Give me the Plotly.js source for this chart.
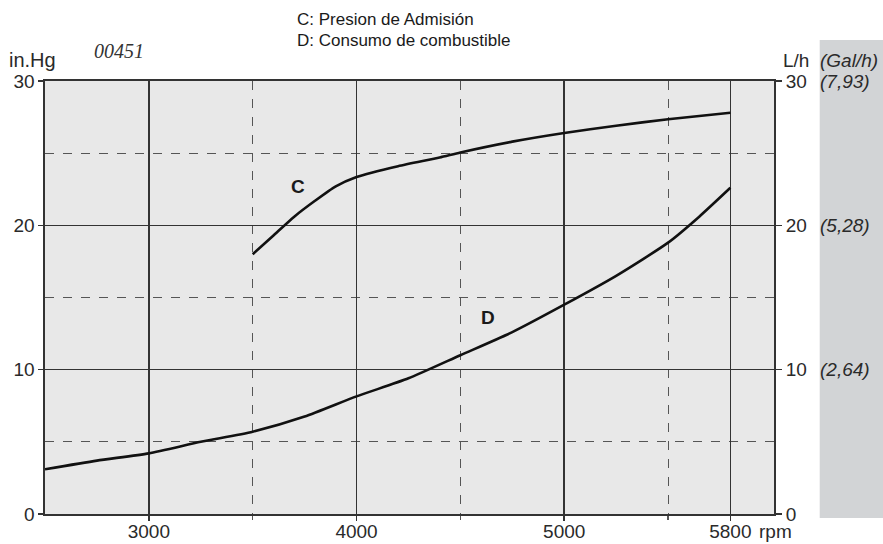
<!DOCTYPE html>
<html>
<head>
<meta charset="utf-8">
<script src="https://cdn.plot.ly/plotly-3.0.1.min.js"></script>
<style>html,body{margin:0;padding:0;background:#fff;}#chart{width:883px;height:544px;}</style>
</head>
<body>
<div id="chart"></div>
<script>
// Data
var rpmC = [3500, 3600, 3700, 3800, 3900, 4000, 4200, 4400, 4500, 4750, 5000, 5250, 5500, 5800];
var presionC = [18.0, 19.3, 20.6, 21.7, 22.7, 23.35, 24.1, 24.7, 25.05, 25.8, 26.4, 26.9, 27.35, 27.8];
var rpmD = [2500, 2750, 3000, 3250, 3500, 3750, 4000, 4250, 4500, 4750, 5000, 5250, 5500, 5650, 5800];
var consumoD = [3.1, 3.7, 4.2, 5.0, 5.7, 6.75, 8.15, 9.4, 11.0, 12.6, 14.5, 16.5, 18.8, 20.6, 22.6];
var xMajor = [3000, 4000, 5000, 5800];
var xMajorText = ['3000', '4000', '5000', '5800'];
var xMinor = [3500, 4500, 5500];
var yMajor = [0, 10, 20, 30];
var yMinor = [5, 15, 25];
var galText = ['', '(2,64)', '(5,28)', '(7,93)'];

var txt = '#2a2a2a';
var fontMain = 'Liberation Sans, Arial, sans-serif';
var fs = 19;

var traces = [
  {x: rpmC, y: presionC, type: 'scatter', mode: 'lines', line: {color: '#111', width: 2.6, shape: 'spline', smoothing: 0.6}, hoverinfo: 'skip'},
  {x: rpmD, y: consumoD, type: 'scatter', mode: 'lines', yaxis: 'y2', line: {color: '#111', width: 2.6, shape: 'spline', smoothing: 0.6}, hoverinfo: 'skip'}
];

var annotations = [
  {text: 'C: Presion de Admisión', xref: 'paper', yref: 'paper', x: 0.343, y: 1.141, xanchor: 'left', yanchor: 'middle', showarrow: false, font: {family: fontMain, size: 17, color: '#1a1a1a'}},
  {text: 'D: Consumo de combustible', xref: 'paper', yref: 'paper', x: 0.343, y: 1.094, xanchor: 'left', yanchor: 'middle', showarrow: false, font: {family: fontMain, size: 17, color: '#1a1a1a'}},
  {text: 'in.Hg', xref: 'paper', yref: 'paper', x: -0.052, y: 1.048, xanchor: 'left', yanchor: 'middle', showarrow: false, font: {family: fontMain, size: 20, color: txt}},
  {text: '<i>00451</i>', xref: 'paper', yref: 'paper', x: 0.064, y: 1.07, xanchor: 'left', yanchor: 'middle', showarrow: false, font: {family: 'Liberation Serif, Times New Roman, serif', size: 20, color: '#333'}},
  {text: 'L/h', xref: 'paper', yref: 'paper', x: 1.010, y: 1.048, xanchor: 'left', yanchor: 'middle', showarrow: false, font: {family: fontMain, size: fs, color: txt}},
  {text: '<i>(Gal/h)</i>', xref: 'paper', yref: 'paper', x: 1.060, y: 1.048, xanchor: 'left', yanchor: 'middle', showarrow: false, font: {family: fontMain, size: fs, color: txt}},
  {text: 'rpm', xref: 'paper', yref: 'paper', x: 0.976, y: -0.04, xanchor: 'left', yanchor: 'middle', showarrow: false, font: {family: fontMain, size: fs, color: txt}},
  {text: '<b>C</b>', x: 3716, y: 22.7, xref: 'x', yref: 'y', showarrow: false, font: {family: fontMain, size: 19, color: '#1a1a1a'}},
  {text: '<b>D</b>', x: 4632, y: 13.6, xref: 'x', yref: 'y', showarrow: false, font: {family: fontMain, size: 19, color: '#1a1a1a'}}
];
for (var i = 0; i < yMajor.length; i++) {
  if (galText[i]) {
    annotations.push({text: '<i>' + galText[i] + '</i>', xref: 'paper', yref: 'y2', x: 1.060, y: yMajor[i], xanchor: 'left', yanchor: 'middle', showarrow: false, font: {family: fontMain, size: fs, color: txt}});
  }
}

var layout = {
  width: 883, height: 544,
  margin: {l: 44.7, r: 108.7, t: 81, b: 30},
  paper_bgcolor: '#ffffff',
  plot_bgcolor: '#e8e8e8',
  showlegend: false,
  xaxis: {
    range: [2500, 6010], tickmode: 'array', tickvals: xMajor, ticktext: xMajorText,
    showgrid: true, gridcolor: '#333', gridwidth: 1.6,
    showline: true, linecolor: '#333', linewidth: 1.6, mirror: true,
    ticks: 'outside', ticklen: 5, tickcolor: '#333', tickwidth: 1.5,
    ticklabelstandoff: -5,
    tickfont: {family: fontMain, size: fs, color: txt},
    zeroline: false, fixedrange: true,
    minor: {tickmode: 'array', tickvals: xMinor, showgrid: true, griddash: 'dash', gridcolor: '#555', gridwidth: 1, ticks: 'outside', ticklen: 4, tickcolor: '#555'}
  },
  yaxis: {
    range: [0, 30], tickmode: 'array', tickvals: yMajor,
    showgrid: true, gridcolor: '#333', gridwidth: 1.6,
    showline: true, linecolor: '#333', linewidth: 1.6, mirror: true,
    ticks: 'outside', ticklen: 5, tickcolor: '#333', tickwidth: 1.5,
    tickfont: {family: fontMain, size: fs, color: txt},
    zeroline: false, fixedrange: true,
    minor: {tickmode: 'array', tickvals: yMinor, showgrid: true, griddash: 'dash', gridcolor: '#555', gridwidth: 1}
  },
  yaxis2: {
    range: [0, 30], overlaying: 'y', side: 'right', tickmode: 'array', tickvals: yMajor,
    showgrid: false, showline: false,
    ticks: 'outside', ticklen: 7, tickcolor: '#333', tickwidth: 1.5,
    tickfont: {family: fontMain, size: fs, color: txt},
    zeroline: false, fixedrange: true
  },
  shapes: [
    {type: 'rect', xref: 'paper', yref: 'paper', x0: 1.0627, x1: 1.15, y0: -0.009, y1: 1.0947, fillcolor: '#d2d4d6', line: {width: 0}, layer: 'below'}
  ],
  annotations: annotations
};

Plotly.newPlot('chart', traces, layout, {staticPlot: true, displayModeBar: false});
</script>
</body>
</html>
